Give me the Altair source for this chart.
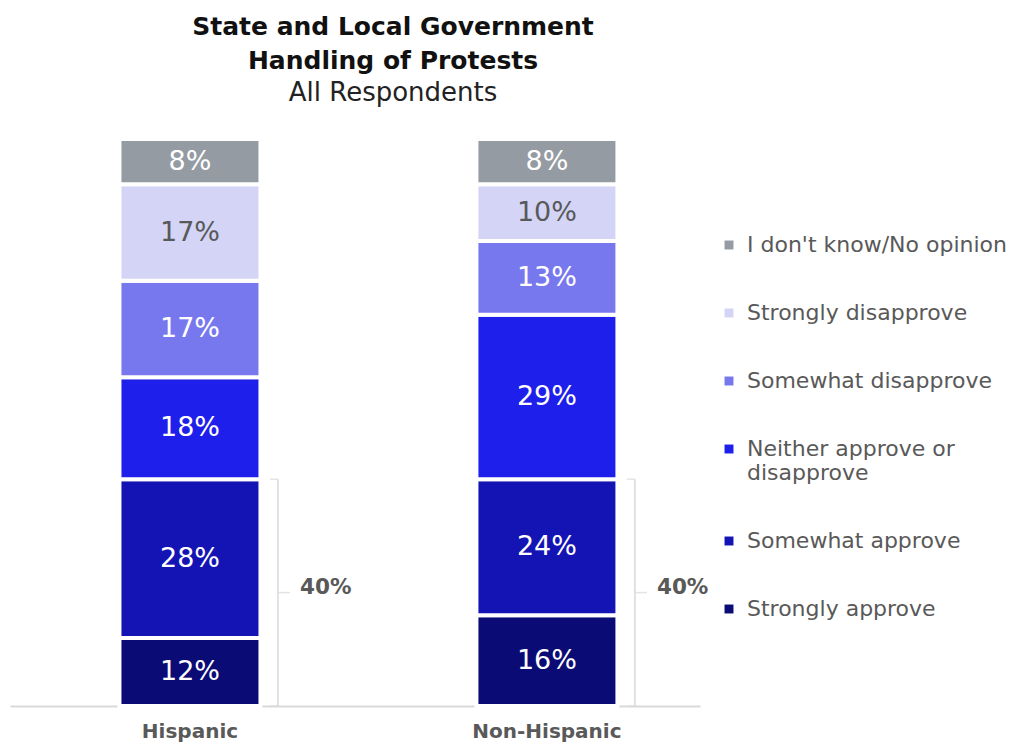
import altair as alt
import pandas as pd

groups = ["Hispanic", "Non-Hispanic"]
# bottom to top of each stacked bar
categories = ["Strongly approve", "Somewhat approve", "Neither approve or disapprove",
              "Somewhat disapprove", "Strongly disapprove", "I don't know/No opinion"]
hispanic = [12, 28, 18, 17, 17, 8]
non_hispanic = [16, 24, 29, 13, 10, 8]
colors = ["#0B0B75", "#1414B5", "#1F1FEB", "#7878EE", "#D4D4F7", "#959BA3"]
approve_cats = ["Strongly approve", "Somewhat approve"]

FONT = "DejaVu Sans"

rows = []
for g, vals in zip(groups, [hispanic, non_hispanic]):
    for i, (c, v) in enumerate(zip(categories, vals)):
        rows.append({"group": g, "category": c, "value": v, "order": i})
df = pd.DataFrame(rows)

bdf = (df[df["category"].isin(approve_cats)]
       .groupby("group", as_index=False)["value"].sum()
       .rename(columns={"value": "total"}))
bdf["zero"] = 0
bdf["mid"] = bdf["total"] / 2
bdf["label"] = bdf["total"].astype(int).astype(str) + "%"

xscale = alt.Scale(domain=groups, paddingInner=0.605, paddingOuter=0.269, align=0.57)
yscale = alt.Scale(domain=[0, 100], nice=False, zero=True)

legend_order = categories[::-1]
legend_colors = colors[::-1]

base = alt.Chart(df).transform_stack(
    stack="value", groupby=["group"], as_=["y0", "y1"],
    sort=[alt.SortField("order", "ascending")]
).transform_calculate(
    mid="(datum.y0 + datum.y1) / 2",
    label="datum.value + '%'"
)

xenc = alt.X("group:N", scale=xscale, sort=groups,
             axis=alt.Axis(title=None, labelAngle=0, labelFontSize=20, labelFont=FONT,
                           labelFontWeight="bold", labelColor="#595959", labelPadding=15,
                           ticks=False, domainColor="#D9D9D9", domainWidth=2))

bars = base.mark_bar(stroke="white", strokeWidth=4).encode(
    x=xenc,
    y=alt.Y("y0:Q", scale=yscale, axis=None),
    y2="y1:Q",
    color=alt.Color("category:N",
                    scale=alt.Scale(domain=legend_order, range=legend_colors),
                    legend=alt.Legend(
                        title=None, orient="none", legendX=708, legendY=95,
                        symbolType="square", symbolSize=80, symbolStrokeWidth=0,
                        labelFont=FONT, labelFontSize=22, labelColor="#595959",
                        labelOffset=7, rowPadding=46, labelLimit=400,
                        labelExpr="datum.label == 'Neither approve or disapprove' ? ['Neither approve or', 'disapprove'] : datum.label")),
)

texts = base.mark_text(font=FONT, fontSize=27, baseline="middle", align="center").encode(
    x=alt.X("group:N", scale=xscale, sort=groups),
    y=alt.Y("mid:Q", scale=yscale),
    text="label:N",
    color=alt.condition(alt.datum.category == "Strongly disapprove",
                        alt.value("#595959"), alt.value("white")),
)

bx = alt.X("group:N", scale=xscale, sort=groups)
bc = alt.Chart(bdf)
vrule = bc.mark_rule(color="#D9D9D9", strokeWidth=1.5, xOffset=88).encode(
    x=bx, y=alt.Y("zero:Q", scale=yscale), y2="total:Q")
top_hook = bc.mark_tick(color="#D9D9D9", thickness=1.5, size=8, xOffset=84, orient="horizontal").encode(
    x=bx, y=alt.Y("total:Q", scale=yscale))
bot_hook = bc.mark_tick(color="#D9D9D9", thickness=1.5, size=8, xOffset=84, orient="horizontal").encode(
    x=bx, y=alt.Y("zero:Q", scale=yscale))
tip = bc.mark_tick(color="#D9D9D9", thickness=1.5, size=12, xOffset=94, orient="horizontal").encode(
    x=bx, y=alt.Y("mid:Q", scale=yscale))
blabel = bc.mark_text(font=FONT, fontSize=21.5, fontWeight="bold", color="#595959",
                      align="left", baseline="middle", xOffset=110, yOffset=-5).encode(
    x=bx, y=alt.Y("mid:Q", scale=yscale), text="label:N")

chart = alt.layer(bars, texts, vrule, top_hook, bot_hook, tip, blabel).properties(
    width=690, height=567,
    autosize=alt.AutoSizeParams(type="none"),
    padding={"left": 2, "top": 131, "right": 318, "bottom": 39},
    title=alt.TitleParams(
        text=["State and Local Government", "Handling of Protests"],
        subtitle="All Respondents",
        anchor="middle", dx=38, offset=31,
        font=FONT, fontSize=25, fontWeight="bold", color="#111111", lineHeight=34,
        subtitleFont=FONT, subtitleFontSize=26, subtitleColor="#222222",
        subtitlePadding=6),
).configure_view(stroke=None)

chart.save("out.html", embed_options={"renderer": "svg", "actions": False})
